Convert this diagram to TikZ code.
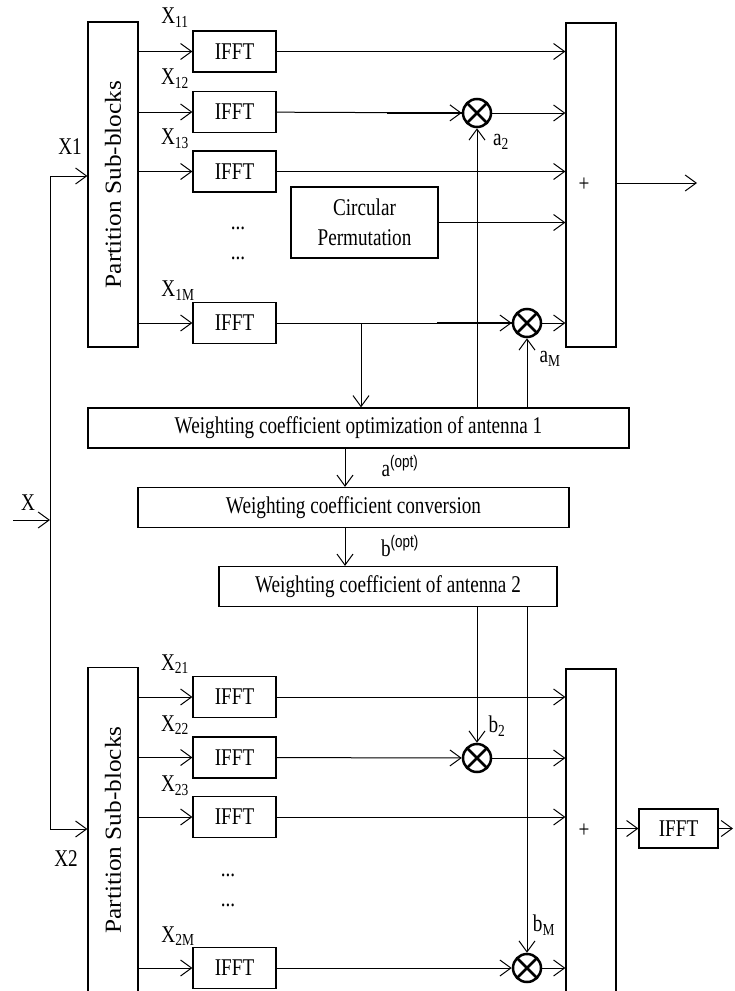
\documentclass[tikz,border=0pt]{standalone}
\usepackage{fontspec}
\usepackage{graphicx}
\setmainfont{Liberation Serif}[FakeStretch=0.8]
\setsansfont{Liberation Sans}[FakeStretch=0.8]
\newfontfamily\partfont{Liberation Serif}[FakeStretch=1.1]
\usetikzlibrary{arrows.meta}

\begin{document}
\begin{tikzpicture}[
    x=1pt, y=-1pt,
    >={Straight Barb[length=11pt,width=16pt]},
    line width=1pt,
    font=\fontsize{24}{30}\selectfont,
    box/.style={rectangle, draw, line width=1.2pt, inner sep=0pt},
    ifft/.style={box, minimum width=83pt, minimum height=41pt},
    part/.style={box, minimum width=50pt, minimum height=325pt, font=\partfont\fontsize{23}{28}\selectfont},
    adder/.style={box, minimum width=50pt, minimum height=324pt, label={[xshift=-7pt]center:+}},
    wbox/.style={box, minimum height=40pt},
    mult/.style={circle, draw, line width=2.5pt, minimum size=28pt, inner sep=0pt,
      path picture={\draw[line width=2.5pt]
        (path picture bounding box.north west) -- (path picture bounding box.south east)
        (path picture bounding box.north east) -- (path picture bounding box.south west);}},
    lbl/.style={inner sep=0pt},
    heavy/.style={line width=2.2pt}
]
  \useasboundingbox (0,0) rectangle (734,991);
  \clip (0,0) rectangle (734,991);

  % nodes
  \node[part] (part1) at (113,184.5) {\rotatebox{90}{Partition Sub-blocks}};
  \node[part] (part2) at (113,830)   {\rotatebox{90}{Partition Sub-blocks}};

  \node[ifft] (ifft11) at (234.5,51.5) {IFFT};
  \node[ifft] (ifft12) at (234.5,112)  {IFFT};
  \node[ifft] (ifft13) at (234.5,171.5) {IFFT};
  \node[ifft] (ifft1M) at (234.5,323)  {IFFT};
  \node[ifft] (ifft21) at (234.5,697)  {IFFT};
  \node[ifft] (ifft22) at (234.5,757.5) {IFFT};
  \node[ifft] (ifft23) at (234.5,817)  {IFFT};
  \node[ifft] (ifft2M) at (234.5,968)  {IFFT};

  \node[box, minimum width=147pt, minimum height=71pt, align=center] (circ) at (364.5,222.5)
    {Circular\\Permutation};

  \node[adder] (sum1) at (591,185) {};
  \node[adder] (sum2) at (591,831) {};
  \node[ifft, minimum width=79pt, minimum height=39pt] (ifftout) at (678.5,828.5) {IFFT};

  \node[mult] (a2) at (477,113) {};
  \node[mult] (aM) at (527,323) {};
  \node[mult] (b2) at (477,758) {};
  \node[mult] (bM) at (527,968) {};

  \node[wbox, minimum width=541pt] (w1) at (358.5,428)   {Weighting coefficient optimization of antenna 1};
  \node[wbox, minimum width=431pt] (w2) at (353.5,507.5) {Weighting coefficient conversion};
  \node[wbox, minimum width=338pt] (w3) at (388,586.5)   {Weighting coefficient of antenna 2};

  % labels
  \node[lbl] (lx)   at (28,503)  {X};
  \node[lbl] (lx1)  at (70,147)  {X1};
  \node[lbl] (lx2)  at (66,859)  {X2};
  \node[lbl] (lx11) at (175,18)  {X\textsubscript{11}};
  \node[lbl] (lx12) at (175,79)  {X\textsubscript{12}};
  \node[lbl] (lx13) at (175,139) {X\textsubscript{13}};
  \node[lbl] (lx1M) at (178,291) {X\textsubscript{1M}};
  \node[lbl] (lx21) at (175,664) {X\textsubscript{21}};
  \node[lbl] (lx22) at (175,725) {X\textsubscript{22}};
  \node[lbl] (lx23) at (175,786) {X\textsubscript{23}};
  \node[lbl] (lx2M) at (178,936) {X\textsubscript{2M}};
  \node[lbl] (dots11) at (238,228) {...};
  \node[lbl] (dots12) at (238,258) {...};
  \node[lbl] (dots21) at (228,875) {...};
  \node[lbl] (dots22) at (228,905) {...};
  \node[lbl] (la2) at (501,142) {a\textsubscript{2}};
  \node[lbl] (laM) at (550,359) {a\textsubscript{M}};
  \node[lbl] (lb2) at (497,726) {b\textsubscript{2}};
  \node[lbl] (lbM) at (544,925) {b\textsubscript{M}};
  \node[lbl] (lao) at (400,466) {a\textsuperscript{\sffamily(opt)}};
  \node[lbl] (lbo) at (400,546) {b\textsuperscript{\sffamily(opt)}};

  % input
  \coordinate (xin) at (13,520);
  \coordinate (xsplit) at (50,520);
  \coordinate (x1turn) at (50,176);
  \coordinate (x2turn) at (50,829);
  \draw[->] (xin) -- (xsplit);
  \draw[->] (x2turn) -- (x1turn) -- (x1turn -| part1.west);
  \draw[->] (x2turn) -- (x2turn -| part2.west);

  % edges, antenna 1
  \draw[->] (part1.east |- ifft11) -- (ifft11);
  \draw[->] (part1.east |- ifft12) -- (ifft12);
  \draw[->] (part1.east |- ifft13) -- (ifft13);
  \draw[->] (part1.east |- ifft1M) -- (ifft1M);
  \draw[->] (ifft11) -- (ifft11 -| sum1.west);
  \draw[->] (ifft12) -- (a2);
  \draw[heavy] ([xshift=-75pt]a2.west) -- (a2.west);
  \draw[->] (a2) -- (a2 -| sum1.west);
  \draw[->] (ifft13) -- (ifft13 -| sum1.west);
  \draw[->] (circ) -- (circ -| sum1.west);
  \draw[->] (ifft1M) -- (aM);
  \draw[heavy] ([xshift=-75pt]aM.west) -- (aM.west);
  \draw[->] (aM) -- (aM -| sum1.west);
  \coordinate (out1) at (697,183);
  \draw[->] (sum1.east |- out1) -- (out1);

  % weighting
  \coordinate (tap) at (361,323);
  \draw[->] (tap) -- (tap |- w1.north);
  \draw[->] (w1.north -| a2) -- (a2);
  \draw[->] (w1.north -| aM) -- (aM);
  \draw[->] ([xshift=-13.5pt]w1.south) -- ([xshift=-8.5pt]w2.north);
  \draw[->] ([xshift=-8.5pt]w2.south) -- ([xshift=-43pt]w3.north);
  \draw[->] (w3.south -| b2) -- (b2);
  \draw[->] (w3.south -| bM) -- (bM);

  % edges, antenna 2
  \draw[->] (part2.east |- ifft21) -- (ifft21);
  \draw[->] (part2.east |- ifft22) -- (ifft22);
  \draw[->] (part2.east |- ifft23) -- (ifft23);
  \draw[->] (part2.east |- ifft2M) -- (ifft2M);
  \draw[->] (ifft21) -- (ifft21 -| sum2.west);
  \draw[->] (ifft22) -- (b2);
  \draw[->] (b2) -- (b2 -| sum2.west);
  \draw[->] (ifft23) -- (ifft23 -| sum2.west);
  \draw[->] (ifft2M) -- (bM);
  \draw[->] (bM) -- (bM -| sum2.west);
  \draw[->] (sum2.east |- ifftout) -- (ifftout);
  \coordinate (out2) at (733,828.5);
  \draw[->] (ifftout) -- (out2);
\end{tikzpicture}
\end{document}
